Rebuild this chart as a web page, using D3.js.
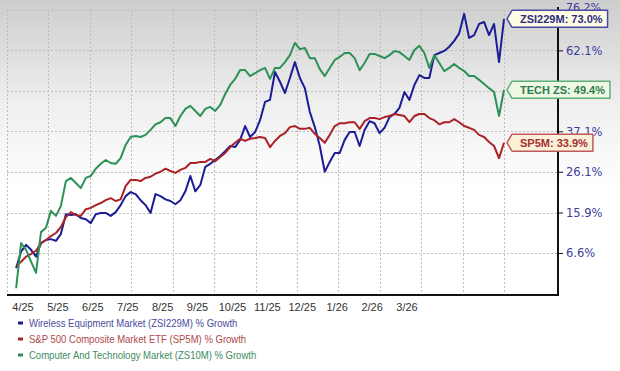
<!DOCTYPE html>
<html><head><meta charset="utf-8">
<script src="https://cdn.jsdelivr.net/npm/d3@7"></script>
<style>body{margin:0;background:#fff}svg{display:block}</style>
</head><body>
<svg id="chart" width="620" height="371"></svg>
<script>
// ---- data ----
const monthLabels = ["4/25","5/25","6/25","7/25","8/25","9/25","10/25","11/25","12/25","1/26","2/26","3/26"];
const yTickValues = [6.6, 15.9, 26.1, 37.1, 49.0, 62.1, 76.2];
const yTickLabels = ["6.6%", "15.9%", "26.1%", "37.1%", "", "62.1%", "76.2%"];
const yBottom = -2.07;
const sampleStartMonth = 0.22, sampleEndMonth = 12;

const wireless = [3.3,6.9,8.4,7.3,5.8,8.8,9.5,9.7,9.3,10.9,15.5,15.3,15.5,14.6,14.3,13.4,15.5,15.8,15.8,15.1,
16.0,17.7,19.9,20.9,20.4,18.9,17.7,15.8,20.4,19.9,19.1,18.7,17.9,18.9,21.1,25.0,21.1,22.7,27.4,28.2,
29.2,30.3,31.6,33.0,32.7,34.7,38.6,35.5,36.9,40.3,45.7,46.3,55.0,51.9,48.4,53.1,58.2,53.1,49.9,42.7,
38.3,33.0,26.1,28.7,31.1,31.1,34.7,36.9,36.9,33.0,37.5,40.0,39.4,36.6,38.1,41.2,42.1,43.9,48.7,46.3,
50.9,54.0,53.1,53.1,60.5,61.2,61.9,63.3,65.3,67.9,74.8,66.3,67.3,71.2,71.9,67.3,71.2,58.2,73.0];

const sp500 = [3.8,4.7,5.8,6.4,7.1,8.8,9.5,10.4,11.1,12.5,14.8,16.0,15.3,15.1,16.7,17.0,17.7,18.2,18.9,19.4,
18.7,19.1,22.4,24.0,24.0,23.7,24.5,24.8,25.6,26.1,26.9,26.3,25.8,26.6,27.1,28.4,28.4,28.7,28.7,29.5,
28.9,30.0,31.1,32.7,33.9,35.0,34.4,35.0,35.2,35.5,35.2,32.7,34.4,35.8,36.6,38.3,38.6,37.8,37.8,38.1,
36.4,35.2,33.9,36.1,38.6,39.4,39.4,39.7,39.7,37.8,40.0,40.9,40.9,40.6,41.2,41.5,42.1,41.8,41.5,39.7,
41.5,42.1,42.1,40.9,40.3,39.1,39.7,39.7,40.6,39.7,38.6,38.1,37.5,36.1,35.5,34.1,33.0,29.7,33.9];

const tech = [-0.9,8.8,7.3,4.7,2.3,11.3,12.3,16.3,15.1,17.5,23.7,24.5,23.2,21.9,24.5,25.0,26.9,28.2,29.2,28.4,
28.2,29.7,33.3,35.5,35.8,35.5,36.1,37.5,39.1,39.7,40.9,40.9,38.6,41.5,43.6,44.5,43.0,41.5,43.6,44.2,
43.0,44.8,48.1,50.9,52.8,55.6,55.6,53.7,54.6,55.6,56.3,52.8,56.3,56.3,58.2,60.5,64.6,62.5,62.9,59.5,
59.5,55.9,53.7,56.3,58.9,59.9,61.2,61.2,59.5,55.6,57.9,60.9,60.9,60.2,59.5,60.5,61.9,61.5,60.2,58.9,
62.2,63.6,61.2,56.3,60.5,57.9,55.3,56.3,57.6,56.3,55.3,53.7,53.7,52.5,51.2,49.9,48.7,41.5,49.4];

const legendNames = ["Wireless Equipment Market (ZSI229M) % Growth",
                     "S&P 500 Composite Market ETF (SP5M) % Growth",
                     "Computer And Technology Market (ZS10M) % Growth"];
const calloutNames = ["ZSI229M", "SP5M", "TECH ZS"];

// ---- styling ----
const lineColors = ["#1c1c96", "#aa2226", "#2b9156"];
const legendText = ["#4b4b9f", "#b04848", "#3d8c5e"];
const calloutFill = ["#fdfde6", "#fcefd9", "#eef8e4"];
const calloutStroke = ["#4a4aa6", "#c05a5a", "#5fae7e"];
const calloutText = ["#2c2c80", "#a32e2e", "#2d7d4c"];

const svg = d3.select("#chart");
const W = 620, H = 371;
const pL = 7, pR = 558, dataR = 504, pT = 10, pB = 294;

// background gradient
const defs = svg.append("defs");
const grad = defs.append("linearGradient").attr("id", "bg").attr("x1", 0).attr("y1", 0).attr("x2", 0).attr("y2", 1);
grad.append("stop").attr("offset", "0%").attr("stop-color", "#cdcdcd");
grad.append("stop").attr("offset", "55%").attr("stop-color", "#efefef");
grad.append("stop").attr("offset", "100%").attr("stop-color", "#ffffff");
svg.append("rect").attr("width", W).attr("height", H).attr("fill", "#fff");
svg.append("rect").attr("x", 0).attr("y", 0).attr("width", W).attr("height", 190).attr("fill", "url(#bg)");

// scales
const x = d3.scaleLinear().domain([0, 12]).range([pL, dataR]);
const y = d3.scaleLog().domain([1 + yBottom / 100, 1 + 76.2 / 100]).range([pB, pT]);
const yp = v => y(1 + v / 100);
const n = wireless.length;
const idx = d3.scaleLinear().domain([0, n - 1]).range([sampleStartMonth, sampleEndMonth]);
const labelX = d3.scalePoint().domain(monthLabels).range([23, 407]);

// grid
const grid = svg.append("g").attr("stroke", "#bdbdbd").attr("stroke-width", 1).attr("stroke-dasharray", "2,2");
grid.selectAll("line.v").data(d3.range(0, 13)).join("line").attr("class", "v")
  .attr("x1", d => Math.round(x(d)) + 0.5).attr("x2", d => Math.round(x(d)) + 0.5)
  .attr("y1", pT).attr("y2", pB);
grid.selectAll("line.h").data(yTickValues).join("line").attr("class", "h")
  .attr("x1", pL).attr("x2", pR)
  .attr("y1", d => Math.round(yp(d)) + 0.5).attr("y2", d => Math.round(yp(d)) + 0.5);

// lines
const series = [wireless, sp500, tech];
const line = d3.line().x((d, i) => x(idx(i))).y(d => yp(d));
series.forEach((s, k) => {
  svg.append("path").datum(s).attr("d", line).attr("fill", "none")
    .attr("stroke", lineColors[k]).attr("stroke-width", 2).attr("stroke-linejoin", "round");
});

// axes
svg.append("line").attr("x1", pL).attr("x2", pR + 1).attr("y1", pB + 1).attr("y2", pB + 1)
  .attr("stroke", "#111").attr("stroke-width", 2);
svg.append("line").attr("x1", pR).attr("x2", pR).attr("y1", 7).attr("y2", pB + 2)
  .attr("stroke", "#111").attr("stroke-width", 2);

const yAxis = d3.axisRight(y).tickValues(yTickValues.map(v => 1 + v / 100))
  .tickFormat((d, i) => yTickLabels[i]).tickSize(5).tickPadding(3);
const yg = svg.append("g").attr("transform", `translate(${pR},0)`).call(yAxis);
yg.select(".domain").remove();
yg.selectAll(".tick line").attr("stroke", "#111");
yg.selectAll(".tick text").attr("fill", "#3d3d9b").attr("font-family", "DejaVu Sans, Verdana, sans-serif")
  .attr("font-size", "11.5px");
// top label sits just above the first callout
yg.selectAll(".tick text").filter((d, i) => i === yTickValues.length - 1)
  .attr("font-size", "11px").attr("dy", null).attr("y", 0.8);

const xg = svg.append("g");
xg.selectAll("text").data(monthLabels).join("text")
  .attr("x", d => labelX(d)).attr("y", 311).attr("text-anchor", "middle")
  .attr("font-family", "Liberation Sans, Arial, sans-serif").attr("font-size", "11px").attr("fill", "#333")
  .text(d => d);

// legend
const lg = svg.append("g");
legendNames.forEach((name, k) => {
  const cy = 323 + k * 16;
  lg.append("rect").attr("x", 18).attr("y", cy - 1.5).attr("width", 5).attr("height", 3).attr("fill", lineColors[k]);
  const t = lg.append("text").attr("x", 29).attr("y", cy + 4)
    .attr("font-family", "Liberation Sans, Arial, sans-serif").attr("font-size", "11px")
    .attr("fill", legendText[k]).text(name);
  const w = t.node().getComputedTextLength();
  t.attr("textLength", w * 0.865).attr("lengthAdjust", "spacingAndGlyphs");
});

// callouts
const cg = svg.append("g");
series.forEach((s, k) => {
  const v = s[s.length - 1];
  const cy = yp(v);
  const tipX = 507, bx = 512, h = 17;
  const g = cg.append("g");
  const path = g.append("path");
  const t = g.append("text").attr("x", bx + 8).attr("y", cy + 4)
    .attr("font-family", "Liberation Sans, Arial, sans-serif").attr("font-size", "11px").attr("font-weight", "bold")
    .attr("fill", calloutText[k]).text(`${calloutNames[k]}: ${v.toFixed(1)}%`);
  const tw = t.node().getComputedTextLength();
  const rx = bx + 8 + tw + 5;
  path.attr("d", `M${tipX},${cy} L${bx},${cy - h / 2} L${rx},${cy - h / 2} L${rx},${cy + h / 2} L${bx},${cy + h / 2} Z`)
    .attr("fill", calloutFill[k]).attr("stroke", calloutStroke[k]).attr("stroke-width", 1.5).attr("stroke-linejoin", "round");
});
</script>
</body></html>
